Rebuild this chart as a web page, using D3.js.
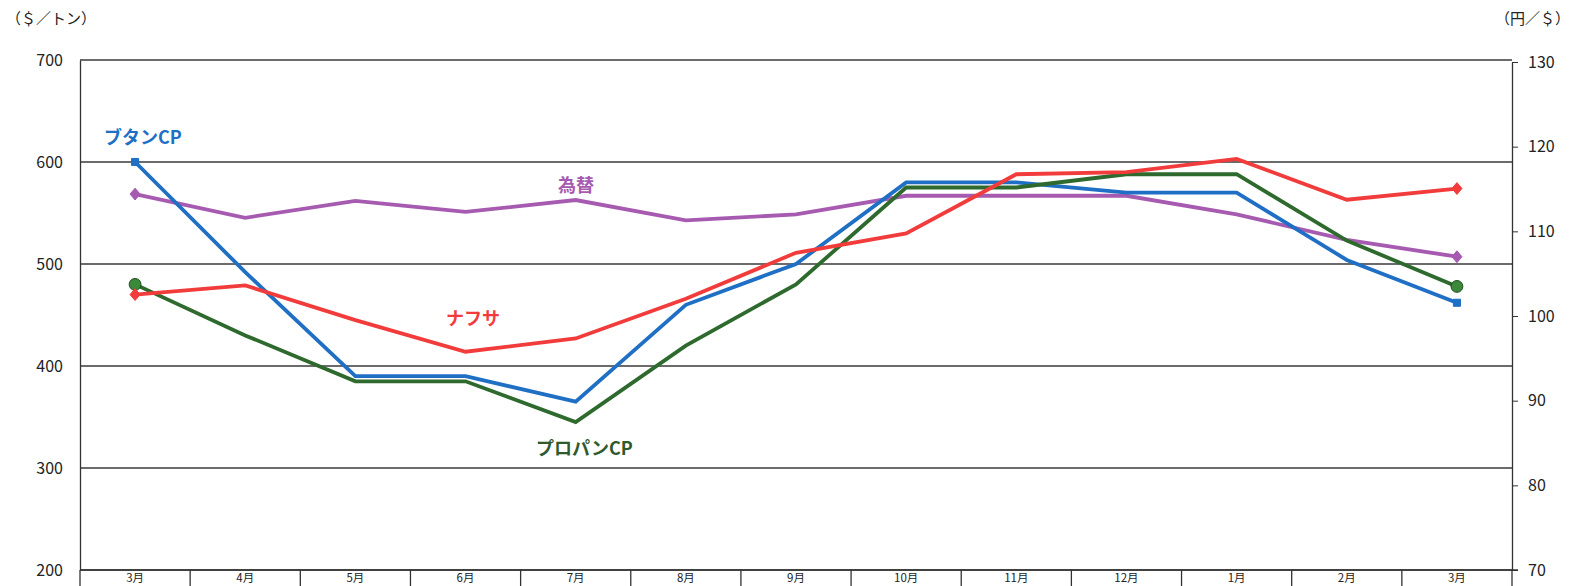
<!DOCTYPE html>
<html><head><meta charset="utf-8">
<script src="https://cdn.jsdelivr.net/npm/d3@7"></script>
<style>
body{margin:0;background:#fff;overflow:hidden;}
text{font-family:"Noto Sans CJK JP","Noto Sans",sans-serif;}
</style></head>
<body><svg id="c" width="1573" height="586"></svg>
<script>
const months = ["3月","4月","5月","6月","7月","8月","9月","10月","11月","12月","1月","2月","3月"];
const butane = [600,492,390,390,365,460,500,580,580,570,570,504,462];
const propane = [480,430,385,385,345,420,480,575,575,588,588,523,478];
const naphtha = [470,479,445,414,427,466,511,530,588,590,603,563,574];
const fx = [114.4,111.6,113.6,112.3,113.7,111.3,112.0,114.2,114.2,114.2,112.0,109.0,107.0];
const leftTicks = [200,300,400,500,600,700];
const rightTicks = [70,80,90,100,110,120,130];

const svg = d3.select("#c");
const L = 80, R = 1512, T = 60, B = 570;
const x = d3.scaleBand().domain(d3.range(months.length)).range([L, R]);
const cx = i => x(i) + x.bandwidth()/2;
const yL = d3.scaleLinear().domain([200,700]).range([B, T]);
const yR = d3.scaleLinear().domain([70,130]).range([B, T+2]);
const numFont = "'Liberation Sans','Arial',sans-serif";

// gridlines
svg.append("g").selectAll("line").data(leftTicks).join("line")
  .attr("x1", L).attr("x2", R).attr("y1", d=>yL(d)).attr("y2", d=>yL(d))
  .attr("stroke", "#3a3a3a").attr("stroke-width", 1.3);

// left axis
const gl = svg.append("g").attr("transform", `translate(${L},0)`)
  .call(d3.axisLeft(yL).tickValues(leftTicks).tickSize(0).tickPadding(17));
gl.select(".domain").attr("stroke","#333").attr("stroke-width",1.3);
gl.selectAll("text").attr("font-size",16).attr("fill","#222").attr("font-family",numFont);

// right axis
const gr = svg.append("g").attr("transform", `translate(${R},0)`)
  .call(d3.axisRight(yR).tickValues(rightTicks).tickSize(6).tickSizeOuter(0).tickPadding(10));
gr.select(".domain").attr("stroke","#333").attr("stroke-width",1.3);
gr.selectAll(".tick line").attr("stroke","#333");
gr.selectAll("text").attr("font-size",16).attr("fill","#222").attr("font-family",numFont);

// x category table
svg.append("line").attr("x1",L).attr("x2",R+6).attr("y1",B).attr("y2",B).attr("stroke","#333").attr("stroke-width",1.3);
svg.append("g").selectAll("line").data(d3.range(months.length+1)).join("line")
  .attr("x1", i => i < months.length ? x(i) : R).attr("x2", i => i < months.length ? x(i) : R)
  .attr("y1", B).attr("y2", 590).attr("stroke","#333").attr("stroke-width",1.3);
svg.append("g").selectAll("text").data(months).join("text")
  .attr("x",(d,i)=>cx(i)).attr("y",582).attr("text-anchor","middle")
  .attr("font-size",11.5).attr("fill","#222").text(d=>d);

// axis titles
svg.append("text").attr("x",6).attr("y",24).attr("font-size",15).attr("fill","#222").text("（＄／トン）");
svg.append("text").attr("x",1570).attr("y",24).attr("text-anchor","end").attr("font-size",15).attr("fill","#222").text("（円／＄）");

function series(data, scale, color, width){
  const line = d3.line().x((d,i)=>cx(i)).y(d=>scale(d));
  svg.append("path").datum(data).attr("d", line).attr("fill","none")
    .attr("stroke", color).attr("stroke-width", width).attr("stroke-linejoin","miter");
}
series(fx, yR, "#a65bb0", 3.8);
series(butane, yL, "#1f6fc5", 3.8);
series(propane, yL, "#2e6a2e", 3.8);
series(naphtha, yL, "#f23c3c", 3.8);

// end markers
function markers(data, scale, color, type, size, stroke){
  const idx = [0, data.length-1];
  svg.append("g").selectAll("path").data(idx).join("path")
    .attr("transform", i => `translate(${cx(i)},${scale(data[i])})`)
    .attr("d", d3.symbol().type(type).size(size)())
    .attr("fill", color).attr("stroke", stroke || color).attr("stroke-width",1);
}
const diamond = {draw(ctx, size){const r=Math.sqrt(size)/1.6; ctx.moveTo(0,-r);ctx.lineTo(r*0.85,0);ctx.lineTo(0,r);ctx.lineTo(-r*0.85,0);ctx.closePath();}};
markers(fx, yR, "#a65bb0", diamond, 90);
markers(butane, yL, "#1f6fc5", d3.symbolSquare, 50);
markers(propane, yL, "#3a8a3a", d3.symbolCircle, 110, "#1f4a1f");
markers(naphtha, yL, "#f23c3c", diamond, 90);

// series labels
const lab = (t, xx, yy, c) => svg.append("text").attr("x",xx).attr("y",yy).attr("font-size",18).attr("font-weight","bold").attr("fill",c).text(t);
lab("ブタンCP", 104, 144, "#1f6fc5");
lab("為替", 558, 192, "#a65bb0");
lab("ナフサ", 446, 325, "#f23c3c");
lab("プロパンCP", 536, 455, "#2e5a2e");
</script></body></html>
